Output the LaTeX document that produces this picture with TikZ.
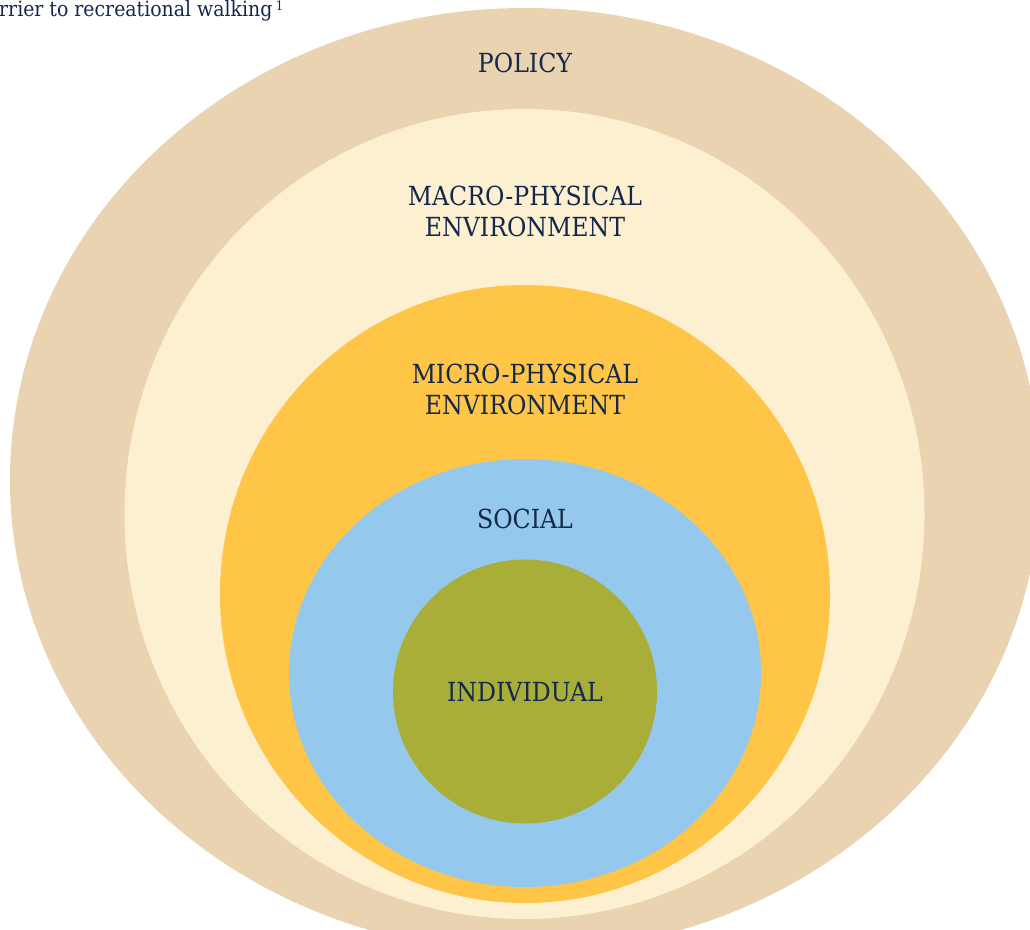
\documentclass[tikz,border=0pt]{standalone}
\usepackage{fontspec}
\setmainfont{DejaVu Serif Condensed}
\definecolor{navy}{HTML}{14284B}
\definecolor{policytan}{HTML}{E9D3B1}
\definecolor{macrocream}{HTML}{FDF0D0}
\definecolor{microyellow}{HTML}{FFC546}
\definecolor{socialblue}{HTML}{94C9ED}
\definecolor{indivgreen}{HTML}{A9AE38}
\begin{document}
\begin{tikzpicture}[x=1pt, y=-1pt,
  level/.style={text=navy, font=\fontsize{26.3}{31}\selectfont, align=center}]
	\useasboundingbox (0,0) rectangle (1030,929);
	\begin{scope}
		\clip (0,0) rectangle (1030,929);
		\fill[policytan] (525,480) ellipse (515 and 472);
		\fill[macrocream] (524.5,514) ellipse (400 and 405);
		\fill[microyellow] (525,594) ellipse (305 and 309);
		\fill[socialblue] (525,673) ellipse (236 and 214);
		\fill[indivgreen] (525,691.5) circle (132);
		\node [level] (policy) at (525,63) {POLICY};
		\node [level] (macro) at (525,211.5) {MACRO-PHYSICAL\\ENVIRONMENT};
		\node [level] (micro) at (525,389) {MICRO-PHYSICAL\\ENVIRONMENT};
		\node [level] (social) at (525,519) {SOCIAL};
		\node [level] (individual) at (525,692) {INDIVIDUAL};
		\node [text=navy, font=\fontsize{21}{23}\selectfont, anchor=base west, inner sep=0pt] (caption) at (-1,16) {rrier to recreational walking\,\raisebox{0.5ex}{\fontsize{13}{14}\selectfont 1}};
	\end{scope}
\end{tikzpicture}
\end{document}
